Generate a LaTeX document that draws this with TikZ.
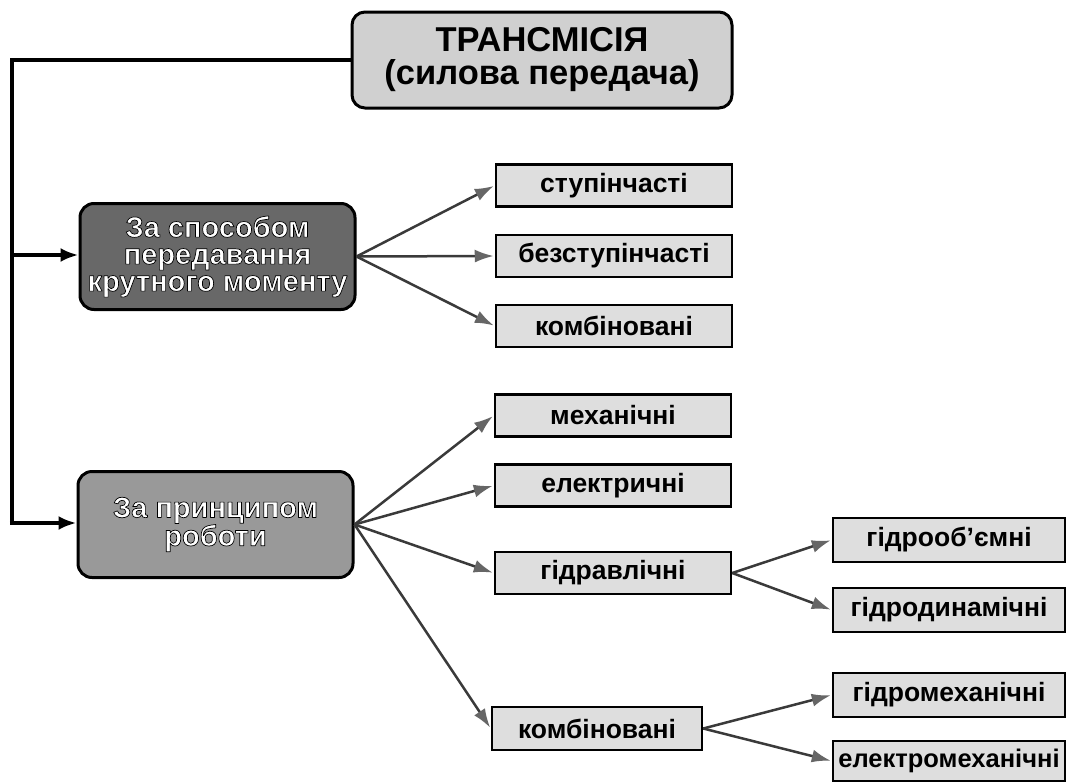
\documentclass[tikz,border=0pt]{standalone}
\usepackage{fontspec}
\setmainfont{Liberation Sans}
\usetikzlibrary{arrows.meta}
\definecolor{topfill}{HTML}{D0D0D0}
\definecolor{darkfill}{HTML}{686868}
\definecolor{midfill}{HTML}{999999}
\definecolor{boxfill}{HTML}{DEDEDE}
\definecolor{arrowgray}{HTML}{3A3A3A}
\definecolor{tipgray}{HTML}{666666}
\newcommand\halotxt[1]{\textcolor{white}{\special{pdf:literal direct 0 0 0 RG 0.7 w 1 j 2 Tr}#1\special{pdf:literal direct 0 Tr}}}
\begin{document}
\begin{tikzpicture}[x=1pt,y=-1pt,
  rbox/.style={draw=black, line width=2.5pt, fill=boxfill, minimum height=42pt, inner sep=0pt, font=\bfseries\fontsize{26.5}{28}\selectfont},
  topbox/.style={draw=black, line width=3pt, fill=topfill, rounded corners=13pt, minimum width=380pt, minimum height=96pt, inner sep=0pt, align=center, font=\bfseries\fontsize{34.5}{33}\selectfont},
  catbox/.style={draw=black, line width=3pt, rounded corners=14pt, minimum width=275pt, minimum height=106pt, inner sep=0pt, align=center, font=\bfseries\fontsize{29}{27}\selectfont},
  fan/.style={draw=arrowgray, line width=2.5pt, -{Latex[length=19pt,width=13pt,color=tipgray]}, shorten >=1pt},
  mainline/.style={draw=black, line width=4.5pt, line join=miter},
  mainarrow/.style={mainline, -{Latex[length=18pt,width=14pt]}}
]
\useasboundingbox (0,0) rectangle (1068,782);
\fill[white] (0,0) rectangle (1068,782);

\node[topbox] (top) at (542,60) {ТРАНСМІСІЯ\\(силова передача)};
\node[catbox, fill=darkfill] (cat1) at (217.5,256.5) {\halotxt{За способом}\\\halotxt{передавання}\\\halotxt{крутного моменту}};
\node[catbox, fill=midfill] (cat2) at (215.5,524.5) {\halotxt{За принципом}\\\halotxt{роботи}};

\node[rbox, minimum width=236pt] (a1) at (614,185.5) {ступінчасті};
\node[rbox, minimum width=236pt] (a2) at (614,256) {безступінчасті};
\node[rbox, minimum width=236pt] (a3) at (614,326) {комбіновані};

\node[rbox, minimum width=236pt] (b1) at (613,415.5) {механічні};
\node[rbox, minimum width=236pt] (b2) at (613,485.5) {електричні};
\node[rbox, minimum width=236pt] (b3) at (613,573) {гідравлічні};
\node[rbox, minimum width=210pt, minimum height=43pt] (b4) at (597,728.5) {комбіновані};

\node[rbox, minimum width=232pt, minimum height=44pt] (h1) at (949,540) {гідрооб'ємні};
\node[rbox, minimum width=232pt, minimum height=44pt] (h2) at (949,610) {гідродинамічні};
\node[rbox, minimum width=232pt, minimum height=44pt] (k1) at (949,695) {гідромеханічні};
\node[rbox, minimum width=232pt, minimum height=40pt, font=\bfseries\fontsize{25.5}{28}\selectfont] (k2) at (949,761) {електромеханічні};

\coordinate (corner) at (12,60);
\coordinate (j1) at (12,255);
\coordinate (j2) at (12,523);

\draw[mainline] (top.west) -- (corner) -- (j2);
\draw[mainarrow] (j1) -- (j1 -| cat1.west);
\draw[mainarrow] ([xshift=-2.25pt]j2) -- (j2 -| cat2.west);

\foreach \t in {a1,a2,a3} \draw[fan] (cat1.east) -- (\t.west);
\foreach \t in {b1,b2,b3,b4} \draw[fan] (cat2.east) -- (\t.west);
\foreach \t in {h1,h2} \draw[fan] (b3.east) -- (\t.west);
\foreach \t in {k1,k2} \draw[fan] (b4.east) -- (\t.west);
\end{tikzpicture}
\end{document}
